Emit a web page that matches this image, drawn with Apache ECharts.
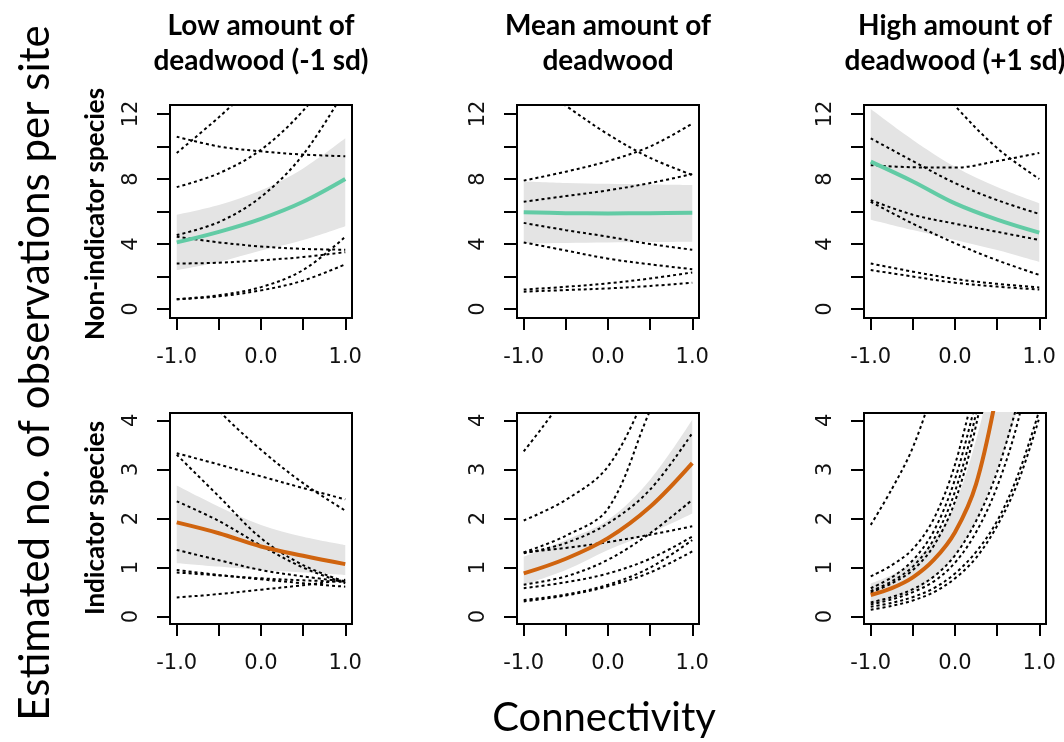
<!DOCTYPE html>
<html>
<head>
<meta charset="utf-8">
<script src="https://cdn.jsdelivr.net/npm/echarts@6/dist/echarts.min.js"></script>
<style>
  html, body { margin: 0; padding: 0; background: #fff; }
  #chart { width: 1064px; height: 742px; }
</style>
</head>
<body>
<div id="chart"></div>
<script>
let xs5 = [-1, -0.5, 0, 0.5, 1];
let xs9 = [-1, -0.75, -0.5, -0.25, 0, 0.25, 0.5, 0.75, 1];

let colTitles = ['Low amount of\ndeadwood (-1 sd)', 'Mean amount of\ndeadwood', 'High amount of\ndeadwood (+1 sd)'];
let rowTitles = ['Non-indicator species', 'Indicator species'];
let xTicks = [-1, -0.5, 0, 0.5, 1];
let xLabels = [-1, 0, 1];
let yTicksTop = [0, 2, 4, 6, 8, 10, 12];
let yLabelsTop = [0, 4, 8, 12];
let yTicksBottom = [0, 1, 2, 3, 4];

// top row: non-indicator species
let p1Mean = [4.1, 4.75, 5.55, 6.6, 8.0];
let p1Lo = [2.4, 2.9, 3.6, 4.25, 5.1];
let p1Hi = [5.8, 6.4, 7.3, 8.65, 10.5];
let p1Species = [
    [10.6, 10.0, 9.7, 9.5, 9.4],
    [9.6, 11.8, 14.2],
    [7.5, 8.35, 9.8, 12.2, 15.5],
    [4.55, 5.35, 6.9, 9.5, 13.5],
    [4.45, 4.1, 3.85, 3.7, 3.65],
    [2.8, 2.85, 3.0, 3.2, 3.5],
    [0.6, 0.85, 1.35, 2.4, 4.45],
    [0.6, 0.78, 1.15, 1.75, 2.75]
];

let p2Mean = [5.95, 5.9, 5.88, 5.9, 5.93];
let p2Lo = [4.05, 4.07, 4.1, 4.12, 4.14];
let p2Hi = [7.84, 7.75, 7.7, 7.66, 7.63];
let p2Species = [
    [14.3, 12.5, 10.75, 9.3, 8.25],
    [7.9, 8.45, 9.1, 10.0, 11.4],
    [6.6, 6.95, 7.3, 7.75, 8.3],
    [5.3, 4.85, 4.45, 4.0, 3.65],
    [4.1, 3.6, 3.1, 2.75, 2.45],
    [1.2, 1.37, 1.58, 1.88, 2.25],
    [1.07, 1.17, 1.27, 1.42, 1.62]
];

let p3Mean = [9.07, 7.85, 6.5, 5.5, 4.7];
let p3Lo = [5.5, 4.86, 4.25, 3.63, 2.9];
let p3Hi = [12.3, 10.4, 8.75, 7.5, 6.5];
let p3Species = [
    [19, 15.5, 12.5, 9.9, 8.0],
    [8.85, 8.72, 8.7, 9.1, 9.6],
    [10.5, 9.1, 7.75, 6.7, 5.85],
    [6.7, 5.8, 5.25, 4.75, 4.25],
    [6.6, 5.25, 4.05, 3.0, 2.1],
    [2.8, 2.3, 1.85, 1.55, 1.33],
    [2.4, 2.0, 1.62, 1.38, 1.2]
];

// bottom row: indicator species
let p4Mean = [1.92, 1.70, 1.43, 1.24, 1.07];
let p4Lo = [1.09, 1.02, 0.95, 0.9, 0.85];
let p4Hi = [2.67, 2.24, 1.87, 1.63, 1.46];
let p4Species = [
    [5.2, 4.2, 3.4, 2.72, 2.16],
    [3.33, 3.1, 2.86, 2.62, 2.39],
    [3.3, 2.45, 1.6, 1.05, 0.71],
    [2.35, 1.95, 1.45, 1.0, 0.68],
    [1.36, 1.15, 0.95, 0.82, 0.71],
    [0.95, 0.85, 0.76, 0.68, 0.61],
    [0.9, 0.84, 0.78, 0.74, 0.71],
    [0.39, 0.46, 0.55, 0.64, 0.75]
];

let p5Mean = [0.88, 1.18, 1.6, 2.24, 3.13];
let p5Lo = [0.65, 0.95, 1.36, 1.7, 2.1];
let p5Hi = [1.22, 1.56, 1.97, 2.79, 4.01];
let p5Species = [
    [3.37, 4.55, 6.3],
    [1.96, 2.38, 3.06, 4.7, 6.5],
    [1.31, 1.65, 2.2, 4.2, 6.0],
    [1.29, 1.5, 1.9, 2.59, 3.74],
    [1.31, 1.4, 1.52, 1.67, 1.84],
    [0.65, 0.82, 1.16, 1.7, 2.38],
    [0.58, 0.7, 0.88, 1.18, 1.63],
    [0.34, 0.45, 0.65, 1.0, 1.56],
    [0.31, 0.43, 0.62, 0.9, 1.33]
];

let p6Mean = [0.44, 0.58, 0.8, 1.16, 1.72, 2.7, 4.6];
let p6Lo = [0.25, 0.36, 0.52, 0.8, 1.25, 1.95, 3.0, 4.3, 6.5];
let p6Hi = [0.68, 0.85, 1.12, 1.56, 2.3, 3.6, 5.4, 7.5, 10];
let p6Species = [
    [1.87, 2.6, 3.45, 4.7, 6.3],
    [0.82, 1.05, 1.38, 2.0, 3.1, 4.8],
    [0.58, 0.8, 1.15, 1.75, 2.8, 4.4],
    [0.52, 0.72, 1.02, 1.58, 2.55, 4.15, 6.5],
    [0.49, 0.68, 0.95, 1.45, 2.35, 3.9, 6.2],
    [0.29, 0.4, 0.56, 0.82, 1.25, 1.95, 2.95, 4.4],
    [0.25, 0.35, 0.5, 0.72, 1.1, 1.72, 2.65, 4.0, 6.0],
    [0.2, 0.28, 0.4, 0.58, 0.88, 1.32, 1.95, 2.9, 4.2],
    [0.14, 0.22, 0.33, 0.5, 0.78, 1.2, 1.85, 2.75, 4.05]
];

let panels = [
    {xs: xs5, mean: p1Mean, lo: p1Lo, hi: p1Hi, species: p1Species, row: 0},
    {xs: xs5, mean: p2Mean, lo: p2Lo, hi: p2Hi, species: p2Species, row: 0},
    {xs: xs5, mean: p3Mean, lo: p3Lo, hi: p3Hi, species: p3Species, row: 0},
    {xs: xs5, mean: p4Mean, lo: p4Lo, hi: p4Hi, species: p4Species, row: 1},
    {xs: xs5, mean: p5Mean, lo: p5Lo, hi: p5Hi, species: p5Species, row: 1},
    {xs: xs9, mean: p6Mean, lo: p6Lo, hi: p6Hi, species: p6Species, row: 1}
];

let lefts = [170, 517, 864];
let tops = [105, 413];
let heights = [213, 211];
let lineColors = ['#62cba5', '#d0640f'];
let tickFont = 'DejaVu Sans';
let titleFont = 'Lato';
let smoothness = 0.35;

function pairs(xs, ys) {
    return ys.map(function (y, i) { return [xs[i], y]; });
}
// y first, so that the stack is done on the y values
function pairsYX(xs, ys) {
    return ys.map(function (y, i) { return [y, xs[i]]; });
}

let grids = [], xAxes = [], yAxes = [], series = [];
panels.forEach(function (p, i) {
    let col = i % 3;
    grids.push({
        left: lefts[col], top: tops[p.row], width: 182, height: heights[p.row],
        show: true, borderColor: '#000', borderWidth: 2, backgroundColor: 'transparent'
    });
    xAxes.push({
        type: 'value', gridIndex: i, min: -1.08, max: 1.08,
        axisLine: {show: false, onZero: false}, splitLine: {show: false},
        axisTick: {show: true, length: 12, customValues: xTicks, lineStyle: {color: '#000', width: 2}},
        axisLabel: {
            customValues: xLabels, margin: 29, color: '#111', fontSize: 21, fontFamily: tickFont,
            formatter: function (v) { return v.toFixed(1); }
        }
    });
    let top = p.row === 0;
    yAxes.push({
        type: 'value', gridIndex: i,
        min: top ? -0.55 : -0.15, max: top ? 12.55 : 4.15,
        axisLine: {show: false, onZero: false}, splitLine: {show: false},
        axisTick: {show: true, length: 13, customValues: top ? yTicksTop : yTicksBottom, lineStyle: {color: '#000', width: 2}},
        axisLabel: {
            customValues: top ? yLabelsTop : yTicksBottom, rotate: 90, margin: 28,
            color: '#111', fontSize: 21, fontFamily: tickFont
        }
    });
    // confidence band as a stacked area
    series.push({
        type: 'line', xAxisIndex: i, yAxisIndex: i, stack: 'band' + i, smooth: smoothness,
        encode: {x: 1, y: 0},
        symbol: 'none', silent: true, lineStyle: {opacity: 0}, data: pairsYX(p.xs, p.lo)
    });
    series.push({
        type: 'line', xAxisIndex: i, yAxisIndex: i, stack: 'band' + i, smooth: smoothness,
        encode: {x: 1, y: 0},
        symbol: 'none', silent: true, lineStyle: {opacity: 0},
        areaStyle: {color: '#e4e4e4', opacity: 1},
        data: pairsYX(p.xs, p.hi.map(function (v, j) { return v - p.lo[j]; }))
    });
    p.species.forEach(function (s) {
        series.push({
            type: 'line', xAxisIndex: i, yAxisIndex: i, smooth: smoothness, symbol: 'none', silent: true,
            lineStyle: {color: '#000', width: 2, type: [3, 3]}, data: pairs(p.xs, s)
        });
    });
    series.push({
        type: 'line', xAxisIndex: i, yAxisIndex: i, smooth: smoothness, symbol: 'none', silent: true,
        lineStyle: {color: lineColors[p.row], width: 4}, data: pairs(p.xs, p.mean)
    });
});

let texts = [];
colTitles.forEach(function (t, c) {
    texts.push({
        type: 'text', x: lefts[c] + 91, y: 43,
        style: {text: t, font: 'bold 28px ' + titleFont, textAlign: 'center', textVerticalAlign: 'middle', lineHeight: 35, fill: '#000'}
    });
});
texts.push({
    type: 'text', x: 96, y: 214, rotation: Math.PI / 2,
    style: {text: rowTitles[0], font: 'bold 26px ' + titleFont, textAlign: 'center', textVerticalAlign: 'middle', fill: '#000'}
});
texts.push({
    type: 'text', x: 96, y: 518, rotation: Math.PI / 2,
    style: {text: rowTitles[1], font: 'bold 26px ' + titleFont, textAlign: 'center', textVerticalAlign: 'middle', fill: '#000'}
});
texts.push({
    type: 'text', x: 35, y: 373, rotation: Math.PI / 2,
    style: {text: 'Estimated no. of observations per site', font: '42px ' + titleFont, textAlign: 'center', textVerticalAlign: 'middle', fill: '#000'}
});
texts.push({
    type: 'text', x: 604, y: 718,
    style: {text: 'Connectivity', font: '40px ' + titleFont, textAlign: 'center', textVerticalAlign: 'middle', fill: '#000'}
});

let chart = echarts.init(document.getElementById('chart'), null, {renderer: 'canvas'});
chart.setOption({
    animation: false,
    backgroundColor: '#fff',
    grid: grids,
    xAxis: xAxes,
    yAxis: yAxes,
    series: series,
    graphic: texts
});
</script>
</body>
</html>
